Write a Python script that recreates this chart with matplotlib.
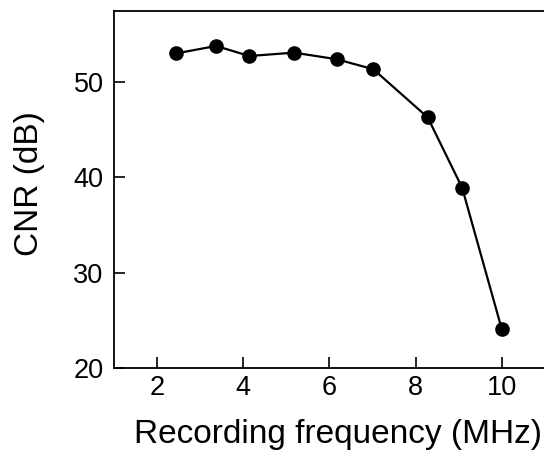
import matplotlib
matplotlib.use("Agg")
import matplotlib.pyplot as plt

# data
freq_mhz = [2.45, 3.37, 4.14, 5.18, 6.17, 7.02, 8.28, 9.08, 10.0]
cnr_db = [52.97, 53.74, 52.69, 53.04, 52.35, 51.30, 46.27, 38.9, 24.1]
x_ticks = [2, 4, 6, 8, 10]
y_ticks = [20, 30, 40, 50]

plt.rcParams['font.family'] = ['Liberation Sans', 'DejaVu Sans']

W, H = 544, 459
fig = plt.figure(figsize=(W/100, H/100), dpi=100)
ax = fig.add_axes([114/W, 90.7/H, 1 - 114/W, (448 - 90.7)/H])

ax.plot(freq_mhz, cnr_db, color='black', linewidth=1.6, marker='o',
        markersize=9.5, markerfacecolor='black', markeredgecolor='black')

ax.set_xlim(1.0, 10.98)
ax.set_ylim(20, 57.4)
ax.set_xticks(x_ticks)
ax.set_yticks(y_ticks)
ax.tick_params(direction='in', length=8, width=1.2, labelsize=19.5,
               colors='black')
ax.tick_params(axis='x', pad=5)
ax.tick_params(axis='y', pad=7.5)

for side in ['left', 'bottom', 'top']:
    ax.spines[side].set_linewidth(1.3)
ax.spines['right'].set_visible(False)

# axis titles placed by figure pixels
ax.set_xlabel('Recording frequency (MHz)', fontsize=24, va='baseline')
ax.xaxis.set_label_coords(337.5/W, 16/H, transform=fig.transFigure)
ax.set_ylabel('CNR (dB)', fontsize=24, va='center')
ax.yaxis.set_label_coords(29.5/W, 1 - 183.5/H, transform=fig.transFigure)

fig.savefig('out.png', dpi=100)
